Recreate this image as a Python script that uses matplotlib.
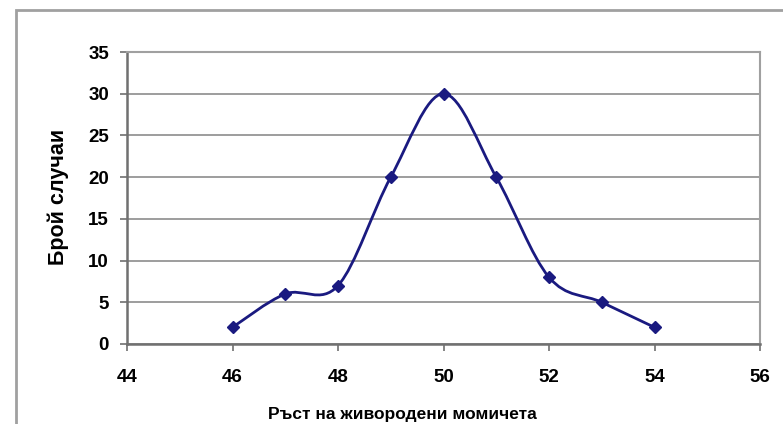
import numpy as np
import matplotlib.pyplot as plt
from matplotlib.path import Path
from matplotlib.patches import PathPatch, Rectangle

# data
heights = [46, 47, 48, 49, 50, 51, 52, 53, 54]
counts = [2, 6, 7, 20, 30, 20, 8, 5, 2]
xticks = [44, 46, 48, 50, 52, 54, 56]
yticks = [0, 5, 10, 15, 20, 25, 30, 35]

navy = '#1a1a80'

plt.rcParams['font.family'] = ['Liberation Sans', 'DejaVu Sans']

W, H = 783, 424
fig = plt.figure(figsize=(W / 100, H / 100), dpi=100)
# outer chart frame (cut off on right and bottom)
fig.patches.append(Rectangle((16 / W, -0.05), 1.0, 1 - 10 / H + 0.05,
                             transform=fig.transFigure, fill=False,
                             edgecolor='#a0a0a0', linewidth=2))

ax = fig.add_axes([127 / W, 1 - 344 / H, (760 - 127) / W, (344 - 52) / H])


def smooth_path(xs, ys):
    # Excel-style smoothed line: cubic Bezier with 1/6 tangent control points
    pts = np.column_stack([np.asarray(xs, float), np.asarray(ys, float)])
    verts = [pts[0]]
    codes = [Path.MOVETO]
    n = len(pts)
    for i in range(n - 1):
        p0 = pts[i - 1] if i > 0 else pts[i]
        p1 = pts[i]
        p2 = pts[i + 1]
        p3 = pts[i + 2] if i + 2 < n else pts[i + 1]
        verts += [p1 + (p2 - p0) / 6, p2 - (p3 - p1) / 6, p2]
        codes += [Path.CURVE4] * 3
    return Path(verts, codes)


ax.add_patch(PathPatch(smooth_path(heights, counts), facecolor='none',
                       edgecolor=navy, linewidth=2.0, zorder=3))
ax.plot(heights, counts, linestyle='none', marker='D', markersize=6.5,
        color=navy, zorder=4)

ax.set_xlim(44, 56)
ax.set_ylim(0, 35)
ax.set_xticks(xticks)
ax.set_yticks(yticks)
ax.yaxis.grid(True, color='#8c8c8c', linewidth=1.2)
ax.set_axisbelow(True)

for side in ['top', 'right']:
    ax.spines[side].set_color('#a0a0a0')
    ax.spines[side].set_linewidth(1.5)
for side in ['left', 'bottom']:
    ax.spines[side].set_color('#707070')
    ax.spines[side].set_linewidth(1.8)

ax.tick_params(axis='both', direction='out', length=5, width=1.2,
               color='#707070', labelsize=13.5)
ax.tick_params(axis='x', pad=13)
ax.tick_params(axis='y', pad=8)
for lab in ax.get_xticklabels() + ax.get_yticklabels():
    lab.set_fontweight('bold')

fig.text(402 / W, 1 - 414 / H, 'Ръст на живородени момичета', fontsize=12.5,
         fontweight='bold', ha='center', va='center')
fig.text(58 / W, 1 - 197 / H, 'Брой случаи', fontsize=15.5,
         fontweight='bold', ha='center', va='center', rotation=90)

fig.savefig('out.png', dpi=100)
